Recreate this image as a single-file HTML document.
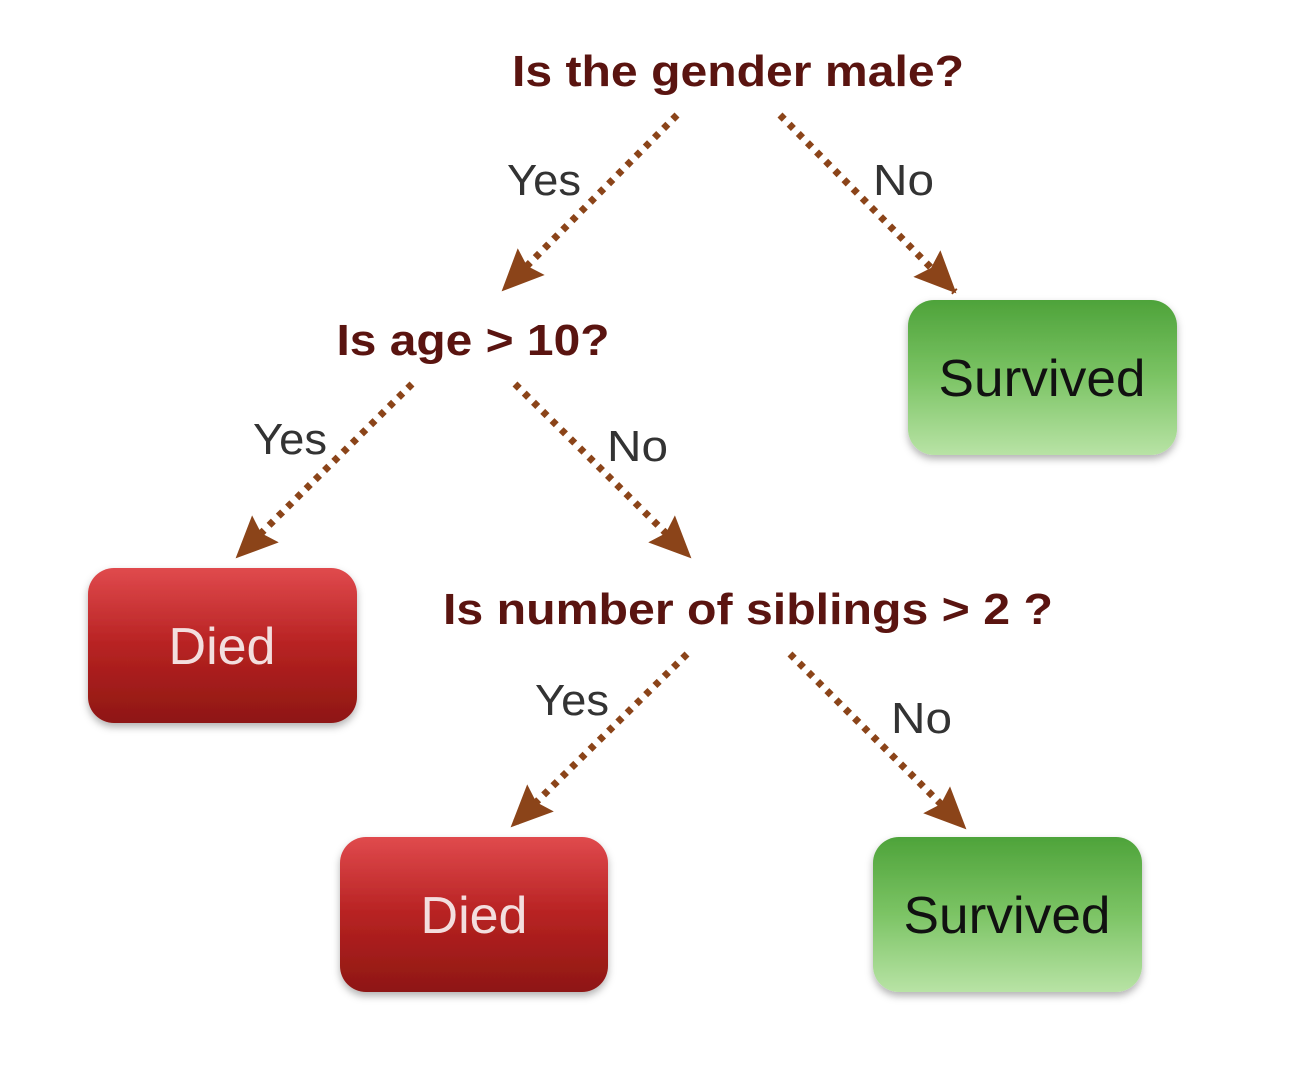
<!DOCTYPE html>
<html><head><meta charset="utf-8"><style>html,body{margin:0;padding:0;background:#fff}svg{display:block}</style></head>
<body>
<svg width="1300" height="1077" viewBox="0 0 1300 1077" xmlns="http://www.w3.org/2000/svg">
<defs>
<linearGradient id="red" x1="0" y1="0" x2="0" y2="1"><stop offset="0" stop-color="#e04a4d"/><stop offset="0.5" stop-color="#b72222"/><stop offset="1" stop-color="#8e1713"/></linearGradient>
<linearGradient id="green" x1="0" y1="0" x2="0" y2="1"><stop offset="0" stop-color="#4ea33a"/><stop offset="0.5" stop-color="#7cc465"/><stop offset="1" stop-color="#b8e3a5"/></linearGradient>
<marker id="ah" markerUnits="userSpaceOnUse" markerWidth="44" markerHeight="44" viewBox="0 0 44 44" refX="40" refY="22" orient="auto">
<path d="M0,3 L42,22 L0,41 L6,22 Z" fill="#8b4419"/>
</marker>
<filter id="sh" x="-10%" y="-10%" width="120%" height="130%"><feDropShadow dx="0" dy="4" stdDeviation="4" flood-color="#000" flood-opacity="0.3"/></filter>
</defs>
<g stroke="#8b4419" stroke-width="7" stroke-linecap="butt" stroke-dasharray="6 7" fill="none">
<line x1="677" y1="115" x2="503" y2="290" marker-end="url(#ah)"/>
<line x1="780" y1="115" x2="955" y2="292" marker-end="url(#ah)"/>
<line x1="412" y1="384" x2="237" y2="557" marker-end="url(#ah)"/>
<line x1="515" y1="384" x2="690" y2="557" marker-end="url(#ah)"/>
<line x1="687" y1="654" x2="512" y2="826" marker-end="url(#ah)"/>
<line x1="790" y1="654" x2="965" y2="828" marker-end="url(#ah)"/>
</g>
<g font-family="Liberation Sans, sans-serif" font-weight="bold" fill="#5a1410" font-size="44" text-anchor="middle">
<text x="738" y="86" textLength="452" lengthAdjust="spacingAndGlyphs">Is the gender male?</text>
<text x="473" y="355" textLength="273" lengthAdjust="spacingAndGlyphs">Is age &gt; 10?</text>
<text x="748" y="624" textLength="610" lengthAdjust="spacingAndGlyphs">Is number of siblings &gt; 2 ?</text>
</g>
<g font-family="Liberation Sans, sans-serif" fill="#333" font-size="44">
<text x="507" y="195" textLength="74" lengthAdjust="spacingAndGlyphs">Yes</text>
<text x="873" y="195" textLength="61" lengthAdjust="spacingAndGlyphs">No</text>
<text x="253" y="454" textLength="74" lengthAdjust="spacingAndGlyphs">Yes</text>
<text x="607" y="461" textLength="61" lengthAdjust="spacingAndGlyphs">No</text>
<text x="535" y="715" textLength="74" lengthAdjust="spacingAndGlyphs">Yes</text>
<text x="891" y="733" textLength="61" lengthAdjust="spacingAndGlyphs">No</text>
</g>
<g filter="url(#sh)">
<rect x="908" y="300" width="269" height="155" rx="26" fill="url(#green)"/>
<rect x="873" y="837" width="269" height="155" rx="26" fill="url(#green)"/>
<rect x="88" y="568" width="269" height="155" rx="26" fill="url(#red)"/>
<rect x="340" y="837" width="268" height="155" rx="26" fill="url(#red)"/>
</g>
<g font-family="Liberation Sans, sans-serif" font-size="52" text-anchor="middle">
<text x="1042" y="396" fill="#111" textLength="207" lengthAdjust="spacingAndGlyphs">Survived</text>
<text x="1007" y="933" fill="#111" textLength="207" lengthAdjust="spacingAndGlyphs">Survived</text>
<text x="222" y="664" fill="#f3dede">Died</text>
<text x="474" y="933" fill="#f3dede">Died</text>
</g>
</svg>
</body></html>
